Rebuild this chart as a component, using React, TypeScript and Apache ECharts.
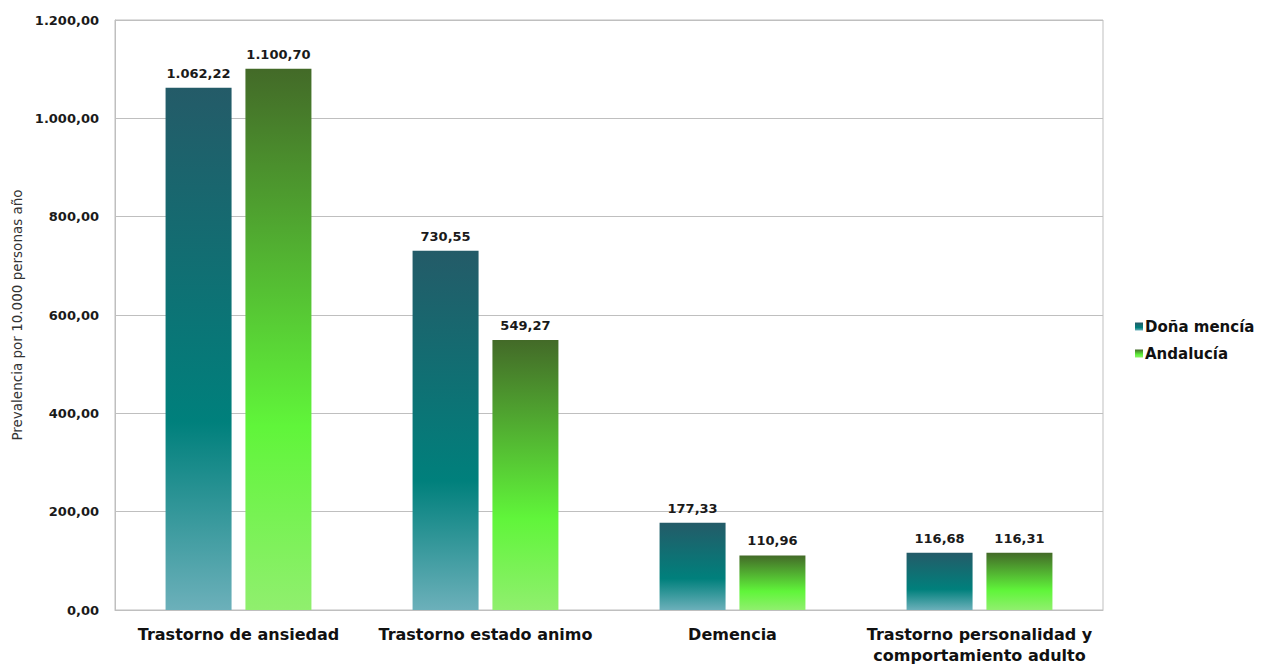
import React, { useEffect, useRef } from "react";
import * as echarts from "echarts";

const categories = [
  "Trastorno de ansiedad",
  "Trastorno estado animo",
  "Demencia",
  "Trastorno personalidad y\ncomportamiento adulto",
];
const seriesNames = ["Doña mencía", "Andalucía"];
const donaMencia = [1062.22, 730.55, 177.33, 116.68];
const andalucia = [1100.7, 549.27, 110.96, 116.31];
const yTicks = { min: 0, max: 1200, interval: 200 };

const fmt = (v: number) =>
  v.toLocaleString("es-ES", { minimumFractionDigits: 2, maximumFractionDigits: 2, useGrouping: "always" } as any);

const tealGrad = new echarts.graphic.LinearGradient(0, 0, 0, 1, [
  { offset: 0, color: "#245b68" },
  { offset: 0.64, color: "#00807c" },
  { offset: 1, color: "#6cb0ba" },
]);
const greenGrad = new echarts.graphic.LinearGradient(0, 0, 0, 1, [
  { offset: 0, color: "#436a28" },
  { offset: 0.66, color: "#60f53a" },
  { offset: 1, color: "#90ef6e" },
]);

export default function App() {
  const ref = useRef<HTMLDivElement>(null);
  useEffect(() => {
    const chart = echarts.init(ref.current!, null, { renderer: "svg" });
    const labelStyle = {
      show: true,
      position: "top" as const,
      distance: 8,
      fontFamily: "DejaVu Sans",
      fontWeight: "bold" as const,
      fontSize: 13,
      color: "#1a1a1a",
      formatter: (p: any) => fmt(p.value),
    };
    chart.setOption({
      animation: false,
      backgroundColor: "#ffffff",
      grid: {
        left: 115,
        right: 172,
        top: 20,
        bottom: 56,
        show: true,
        borderColor: "#bfbfbf",
        borderWidth: 1,
        containLabel: false,
        outerBoundsMode: "none",
      },
      legend: {
        orient: "vertical",
        left: 1130,
        top: 314,
        itemWidth: 8,
        itemHeight: 8,
        itemGap: 12,
        icon: "rect",
        textStyle: {
          fontFamily: "DejaVu Sans",
          fontWeight: "bold",
          fontSize: 15,
          color: "#111",
          padding: [0, 0, 0, -3],
        },
        data: seriesNames,
      },
      xAxis: {
        type: "category",
        data: categories,
        axisTick: { show: false },
        axisLine: { lineStyle: { color: "#bfbfbf" } },
        axisLabel: {
          interval: 0,
          margin: 14,
          fontFamily: "DejaVu Sans",
          fontWeight: "bold",
          fontSize: 16,
          lineHeight: 21,
          color: "#111",
        },
      },
      yAxis: {
        type: "value",
        min: yTicks.min,
        max: yTicks.max,
        interval: yTicks.interval,
        name: "Prevalencia por 10.000 personas año",
        nameLocation: "middle",
        nameGap: 91,
        nameTextStyle: { fontFamily: "DejaVu Sans", fontSize: 13.5, color: "#333" },
        axisLine: { show: true, lineStyle: { color: "#bfbfbf" } },
        axisTick: { show: false },
        splitLine: { lineStyle: { color: "#bfbfbf" } },
        axisLabel: {
          margin: 16,
          fontFamily: "DejaVu Sans",
          fontWeight: "bold",
          fontSize: 13,
          color: "#1a1a1a",
          formatter: (v: number) => fmt(v),
        },
      },
      series: [
        {
          name: seriesNames[0],
          type: "bar",
          data: donaMencia,
          barWidth: 66,
          barGap: "21%",
          itemStyle: { color: tealGrad },
          label: labelStyle,
        },
        {
          name: seriesNames[1],
          type: "bar",
          data: andalucia,
          barWidth: 66,
          barGap: "21%",
          itemStyle: { color: greenGrad },
          label: labelStyle,
        },
      ],
    });
    return () => chart.dispose();
  }, []);
  return (
    <div
      ref={ref}
      style={{ position: "fixed", left: 0, top: 0, width: 1275, height: 666, background: "#fff" }}
    />
  );
}
